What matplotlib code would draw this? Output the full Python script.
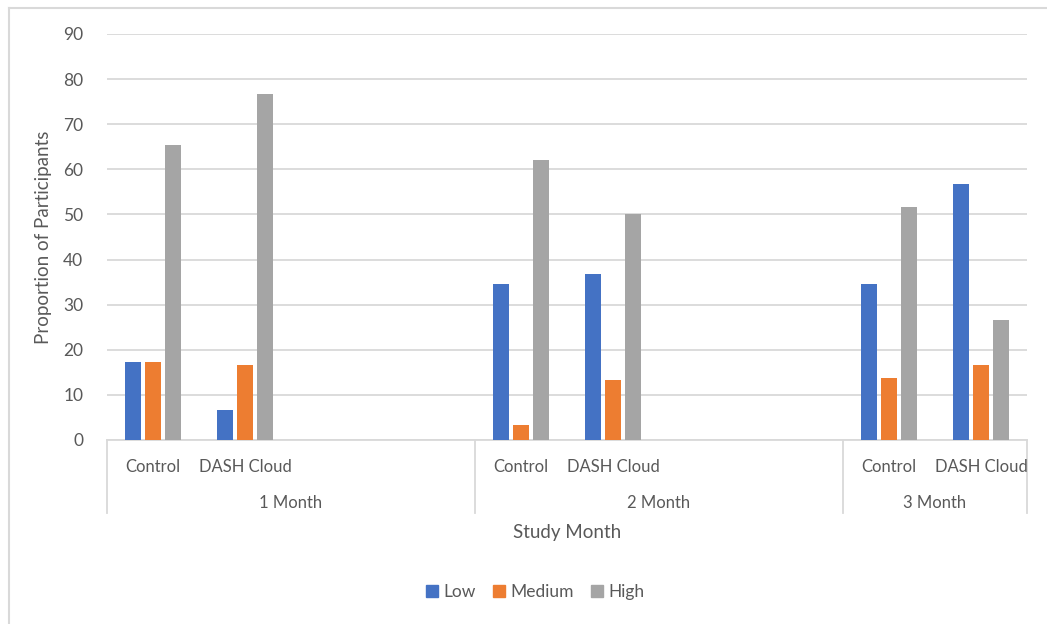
import matplotlib.pyplot as plt
import matplotlib.lines as mlines
from matplotlib.patches import Patch
import numpy as np

# Proportion of participants per engagement level
months = ["1 Month", "2 Month", "3 Month"]
arms = ["Control", "DASH Cloud"]
levels = ["Low", "Medium", "High"]
low = [17.2, 6.7, 34.5, 36.7, 34.5, 56.7]
medium = [17.2, 16.7, 3.4, 13.3, 13.8, 16.7]
high = [65.5, 76.7, 62.1, 50.0, 51.7, 26.7]

# category slots (empty rows in the sheet keep the blank slots)
slots = [0, 1, 4, 5, 8, 9]
month_spans = [(0, 4), (4, 8), (8, 10)]

colors = ["#4472C4", "#ED7D31", "#A5A5A5"]
txt = "#595959"
grid = "#D9D9D9"

plt.rcParams['font.family'] = ['Lato', 'DejaVu Sans']

fig = plt.figure(figsize=(10.47, 6.24), dpi=100)
ax = fig.add_axes([107 / 1047, 1 - 440 / 624, 920 / 1047, 406 / 624])

x = np.array(slots) + 0.5
step = 20 / 92
width = 16 / 92
for i, vals in enumerate([low, medium, high]):
    ax.bar(x + (i - 1) * step, vals, width, color=colors[i], zorder=3,
           label=levels[i])

ax.set_xlim(0, 10)
ax.set_ylim(0, 90)
ax.set_yticks(range(0, 91, 10))
ax.yaxis.grid(True, color=grid, linewidth=1.3)
ax.set_axisbelow(True)
ax.tick_params(axis='y', length=0, pad=17, labelsize=12.5, labelcolor=txt)
ax.set_xticks([])
for s in ["top", "right", "left"]:
    ax.spines[s].set_visible(False)
ax.spines["bottom"].set_color(grid)
ax.spines["bottom"].set_linewidth(1.3)

# multi-level category axis
tr = ax.get_xaxis_transform()
for j, xs in enumerate(x):
    ax.text(xs, -0.066, arms[j % 2], transform=tr, ha='center', va='center',
            fontsize=12, color=txt)
for (a, b), m in zip(month_spans, months):
    ax.text((a + b) / 2, -0.154, m, transform=tr, ha='center', va='center',
            fontsize=12, color=txt)
for xb in [0, 4, 8, 10]:
    ax.add_line(mlines.Line2D([xb, xb], [0, -0.18], transform=tr, color=grid,
                              linewidth=1.3, clip_on=False))

ax.text(5, -0.228, "Study Month", transform=tr, ha='center', va='center',
        fontsize=13.5, color=txt)
ax.set_ylabel("Proportion of Participants", fontsize=13.5, color=txt)
ax.yaxis.set_label_coords(-0.0598, 0.5)

handles = [Patch(color=c, label=l) for c, l in zip(colors, levels)]
fig.legend(handles=handles, loc='center', bbox_to_anchor=(535 / 1047, 1 - 592 / 624),
           ncol=3, frameon=False, fontsize=12.5, labelcolor=txt,
           handlelength=0.7, handleheight=0.7, handletextpad=0.3, columnspacing=1.0)

# chart border
fig.add_artist(mlines.Line2D([8.5 / 1047, 8.5 / 1047], [0, 1 - 7.5 / 624],
                             transform=fig.transFigure, color=grid, linewidth=1.5))
fig.add_artist(mlines.Line2D([8.5 / 1047, 1], [1 - 7.5 / 624, 1 - 7.5 / 624],
                             transform=fig.transFigure, color=grid, linewidth=1.5))

fig.savefig("out.png", dpi=100)
